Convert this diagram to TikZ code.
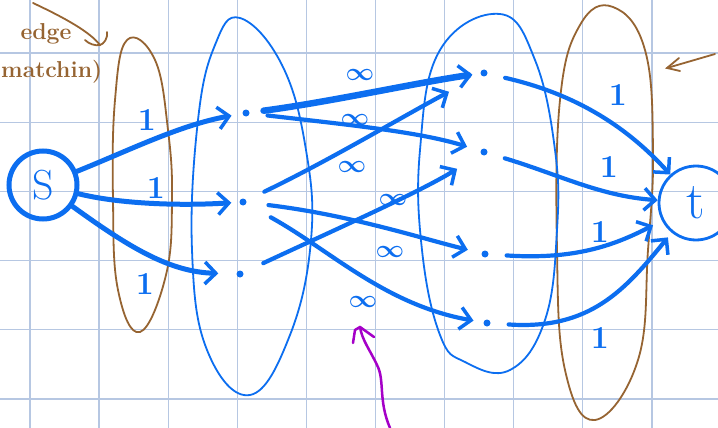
\documentclass[tikz,border=0pt]{standalone}
\usetikzlibrary{arrows.meta}
\definecolor{blueC}{RGB}{12,110,240}
\definecolor{brownC}{RGB}{150,100,50}
\definecolor{gridC}{RGB}{182,199,226}
\definecolor{purpleC}{RGB}{165,0,200}
\tikzset{
  dot/.style={circle,fill=blueC,inner sep=0pt,minimum size=7pt},
  edge/.style={draw=blueC,line width=4.2pt,line cap=round,
    -{Straight Barb[length=11pt,width=22pt,line width=3.5pt]}},
  capone/.style={text=blueC,font=\fontsize{32}{32}\selectfont\bfseries},
  capinf/.style={text=blueC,font=\fontsize{26}{26}\selectfont\boldmath},
  blob/.style={line width=1.8pt,line join=round},
  brownnote/.style={text=brownC,font=\fontsize{23}{23}\selectfont\bfseries}
}
\begin{document}
\begin{tikzpicture}[x=1pt,y=-1pt]
\useasboundingbox (0,0) rectangle (718,428);
\fill[white] (0,0) rectangle (718,428);
% grid
\foreach \gx in {30,99.1,168.2,237.3,306.4,375.5,444.6,513.7,582.8,651.9}
  \draw[gridC,line width=1.3pt] (\gx,0) -- (\gx,428);
\foreach \gy in {53,122.2,191.4,260.6,329.8,399}
  \draw[gridC,line width=1.3pt] (0,\gy) -- (718,\gy);

% brown groups
\draw[brownC,blob] plot[smooth cycle,tension=0.7] coordinates
  {(127,40) (155,60) (168,130) (172,200) (166,275) (140,332) (118,290) (113,200) (115,100)};
\draw[brownC,blob] plot[smooth cycle,tension=0.7] coordinates
  {(613,7) (645,50) (653,150) (648,250) (638,360) (595,420) (565,370) (557,250) (560,100) (580,25)};
% blue groups
\draw[blueC,blob] plot[smooth cycle,tension=0.7] coordinates
  {(240,18) (282,65) (306,150) (311,240) (290,335) (250,395) (207,350) (192,250) (198,120) (215,45)};
\draw[blueC,blob] plot[smooth cycle,tension=0.7] coordinates
  {(500,14) (535,60) (555,150) (557,230) (545,320) (510,370) (465,362) (440,335) (422,250) (420,150) (440,50)};

% nodes
\node[draw=blueC,circle,line width=5pt,minimum size=68pt,inner sep=0pt,text=blueC,
  font=\fontsize{42}{42}\selectfont] (s) at (43,185) {S};
\node[draw=blueC,circle,line width=2.8pt,minimum size=74pt,inner sep=0pt,text=blueC,
  font=\fontsize{52}{52}\selectfont] (t) at (696,203) {t};
\node[dot] (L1) at (246,113) {};
\node[dot] (L2) at (243,202) {};
\node[dot] (L3) at (240,274) {};
\node[dot] (R1) at (484,73) {};
\node[dot] (R2) at (484,152) {};
\node[dot] (R3) at (485,254) {};
\node[dot] (R4) at (487,323) {};

% s -> left
\draw[edge,line width=5pt,shorten >=11pt] (s) .. controls (130,150) and (180,125) .. (L1);
\draw[edge,line width=5pt,shorten >=8pt] (s) .. controls (120,204) and (180,206) .. (L2);
\draw[edge,line width=5pt,shorten >=18pt] (s) .. controls (130,248) and (170,272) .. (L3);

% left -> right
\draw[edge,line width=6.5pt,shorten <=14pt,shorten >=8pt] (L1) .. controls (330,102) and (420,82) .. (R1);
\draw[edge,shorten <=18pt,shorten >=14pt] (L1) .. controls (350,125) and (420,132) .. (R2);
\draw[edge,shorten <=20pt,shorten >=36pt] (L2) .. controls (330,160) and (400,118) .. (R1);
\draw[edge,shorten <=22pt,shorten >=14pt] (L2) .. controls (350,215) and (420,238) .. (R3);
\draw[edge,shorten <=22pt,shorten >=28pt] (L3) .. controls (330,232) and (420,192) .. (R2);
\draw[edge,shorten <=28pt,shorten >=10pt] (L2) .. controls (330,250) and (385,305) .. (R4);

% right -> t
\draw[edge,shorten <=18pt] (R1) .. controls (580,95) and (630,130) .. (t);
\draw[edge,shorten <=18pt] (R2) .. controls (560,175) and (600,196) .. (t);
\draw[edge,shorten <=18pt,shorten >=10pt] (R3) .. controls (575,260) and (615,245) .. (t);
\draw[edge,shorten <=18pt,shorten >=6pt] (R4) .. controls (590,330) and (625,290) .. (t);

% capacity labels
\node[capone] (c1) at (147,120) {1};
\node[capone] (c2) at (156,188) {1};
\node[capone] (c3) at (145,284) {1};
\node[capone] (c4) at (618,95) {1};
\node[capone] (c5) at (609,167) {1};
\node[capone] (c6) at (600,232) {1};
\node[capone] (c7) at (600,338) {1};
\node[capinf] (i1) at (360,75) {$\infty$};
\node[capinf] (i2) at (355,120) {$\infty$};
\node[capinf] (i3) at (352,167) {$\infty$};
\node[capinf] (i4) at (393,200) {$\infty$};
\node[capinf] (i5) at (390,252) {$\infty$};
\node[capinf] (i6) at (363,302) {$\infty$};

% brown notes
\node[brownnote] (n1) at (46,34) {edge};
\node[brownnote,anchor=west,inner sep=0pt] (n2) at (1,72) {matchin)};
\coordinate (h0) at (33,3);
\coordinate (h1) at (100,45);
\draw[brownC,line width=1.8pt,line cap=round] (h0) .. controls (65,18) and (90,32) .. (h1)
  .. controls (104,44) and (108,38) .. (107,32);
\draw[brownC,line width=1.8pt,line cap=round] (h1) .. controls (95,46) and (89,44) .. (85,40);
\coordinate (b0) at (715,54);
\coordinate (b1) at (667,68);
\draw[brownC,line width=1.8pt,line cap=round] (b0) -- (b1);
\draw[brownC,line width=1.8pt,line cap=round] (679,58) -- (b1) -- (680,71);

% purple arrow
\coordinate (p0) at (390,428);
\coordinate (p1) at (360,327);
\draw[purpleC,line width=2.5pt,line cap=round,line join=round]
  (p0) .. controls (378,400) and (385,380) .. (377,365) .. controls (370,350) and (362,340) .. (p1);
\draw[purpleC,line width=2.5pt,line cap=round,line join=round]
  (353,343) -- (355,330) -- (p1) -- (374,337);
\end{tikzpicture}
\end{document}
